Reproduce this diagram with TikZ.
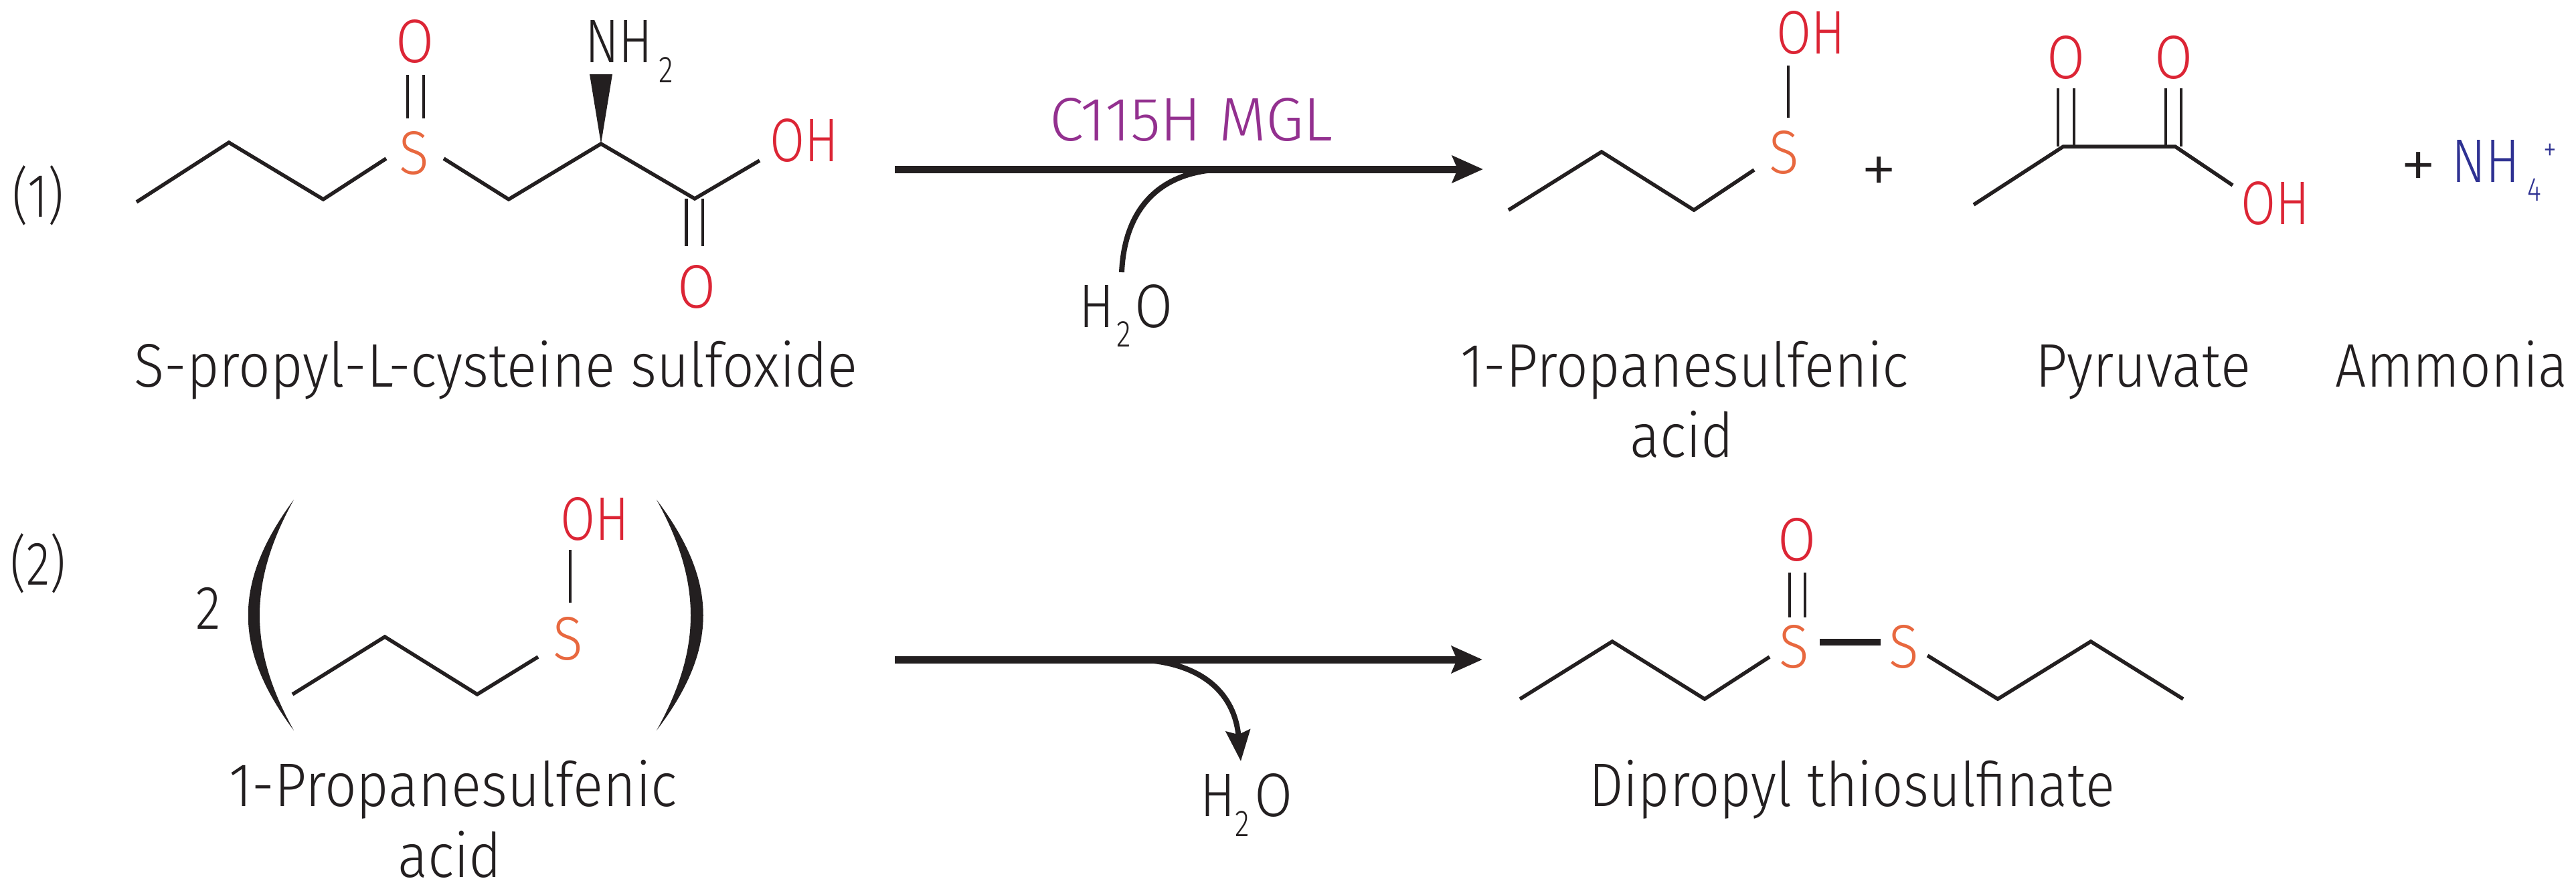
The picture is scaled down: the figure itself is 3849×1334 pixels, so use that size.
\documentclass[tikz,border=0pt]{standalone}
\usepackage{fontspec}
\setmainfont{Fira Sans Light}
\usetikzlibrary{arrows.meta}
\definecolor{ink}{HTML}{231F20}
\definecolor{oxy}{HTML}{DC2535}
\definecolor{sul}{HTML}{E8683F}
\definecolor{enz}{HTML}{93308F}
\definecolor{amm}{HTML}{2E3192}
\newcommand{\hs}[2]{\scalebox{#1}[1]{#2}}
\tikzset{
  x=1pt,y=-1pt,
  bond/.style={ink,line width=5.5pt,line join=miter},
  thin bond/.style={ink,line width=4.5pt},
  rxn/.style={ink,line width=11pt,-{Stealth[length=46pt,width=40pt,inset=8pt]}},
  side/.style={ink,line width=8pt},
  atom/.style={inner sep=0pt,anchor=base,font=\fontsize{92}{92}\selectfont},
  lab/.style={inner sep=0pt,anchor=base,text=ink,font=\fontsize{92}{92}\selectfont},
  plussign/.style={lab,font=\fontsize{110}{110}\selectfont},
  O/.style={atom,text=oxy},
  S/.style={atom,text=sul},
}
\begin{document}
\begin{tikzpicture}
\useasboundingbox (0,0) rectangle (3849,1334);
\fill[white] (0,0) rectangle (3849,1334);
% --- step labels
\node[lab] (n1) at (57,324) {\hs{0.8}{(1)}};
\node[lab] (n2) at (57,874) {\hs{0.8}{(2)}};
% --- S-propyl-L-cysteine sulfoxide
\coordinate (a1) at (204,302);
\coordinate (a2) at (342,213);
\coordinate (a3) at (483,298);
\coordinate (a4) at (577,237);
\coordinate (a5) at (663,237);
\coordinate (a6) at (760,298);
\coordinate (a7) at (898,215);
\coordinate (a8) at (1038,297);
\coordinate (a9) at (1135,240);
\draw[bond] (a1)--(a2)--(a3)--(a4);
\draw[bond] (a5)--(a6)--(a7)--(a8)--(a9);
\node[S] (s1) at (619,260) {\hs{0.9}{S}};
\node[O] (o1) at (620,93) {\hs{0.9}{O}};
\draw[thin bond] (609,112)--(609,177) (633,112)--(633,177);
\node[lab,anchor=base west] (nh2) at (874,93) {\hs{0.82}{NH}};
\node[lab,anchor=base west,font=\fontsize{56}{56}\selectfont] (nh2s) at (984,123) {\hs{0.8}{2}};
\coordinate (w1) at (881,111); \coordinate (w2) at (915,111);
\fill[ink] (w1)--(w2)--(a7)--cycle;
\node[O,anchor=base west] (oh1) at (1150,241) {\hs{0.82}{OH}};
\draw[thin bond] (1025.5,297)--(1025.5,368) (1050,297)--(1050,368);
\node[O] (o2) at (1041,460) {\hs{0.9}{O}};
\node[lab] (l1) at (741,578) {\hs{0.91}{S-propyl-L-cysteine sulfoxide}};
% --- reaction arrow 1
\coordinate (r1s) at (1337,253);
\coordinate (r1e) at (2216,253);
\draw[rxn] (r1s)--(r1e);
\node[lab,text=enz] (enz) at (1780,210) {\hs{1.0}{C115H MGL}};
\coordinate (h1) at (1676,407);
\coordinate (h1t) at (1835,253);
\draw[side] (h1) .. controls (1680,315) and (1730,253) .. (h1t);
\node[lab,anchor=base west] (w1t) at (1612,489) {\hs{0.85}{H}};
\node[lab,anchor=base west,font=\fontsize{56}{56}\selectfont] (w1s) at (1668,518) {\hs{0.8}{2}};
\node[lab,anchor=base west] (w1o) at (1695,489) {\hs{0.9}{O}};
% --- 1-propanesulfenic acid, product
\coordinate (b1) at (2254,314);
\coordinate (b2) at (2393,227);
\coordinate (b3) at (2531,314);
\coordinate (b4) at (2621,254);
\draw[bond] (b1)--(b2)--(b3)--(b4);
\node[S] (s2) at (2666,259) {\hs{0.9}{S}};
\draw[thin bond] (2672,98)--(2672,176);
\node[O,anchor=base west] (oh2) at (2654,80) {\hs{0.82}{OH}};
\node[plussign] (plus) at (2808,290) {+};
\node[lab] (l2) at (2517,578) {\hs{0.91}{1-Propanesulfenic}};
\node[lab] (l2b) at (2513,683) {\hs{0.91}{acid}};
% --- pyruvate
\coordinate (c1) at (2949,306);
\coordinate (c2) at (3083,219);
\coordinate (c3) at (3250,219);
\coordinate (c4) at (3336,277);
\draw[bond] (c1)--(c2)--(c3)--(c4);
\draw[thin bond] (3075,132)--(3075,219) (3099,132)--(3099,219);
\draw[thin bond] (3236,132)--(3236,219) (3259,132)--(3259,219);
\node[O] (o3) at (3087,117) {\hs{0.9}{O}};
\node[O] (o4) at (3248,117) {\hs{0.9}{O}};
\node[O,anchor=base west] (oh3) at (3348,335) {\hs{0.82}{OH}};
\node[lab] (l3) at (3202,578) {\hs{0.91}{Pyruvate}};
% --- ammonium
\node[plussign] (plus2) at (3614,283) {+};
\node[atom,anchor=base west,text=amm] (nh4) at (3663,272) {\hs{0.82}{NH}};
\node[atom,anchor=base west,text=amm,font=\fontsize{50}{50}\selectfont] (nh4s) at (3776,300) {\hs{0.8}{4}};
\node[atom,anchor=base west,text=amm,font=\fontsize{50}{50}\selectfont] (nh4p) at (3800,240) {\hs{0.8}{+}};
\node[lab] (l4) at (3663,578) {\hs{0.89}{Ammonia}};
% --- lower left
\node[lab] (two) at (311,940) {\hs{0.85}{2}};
\fill[ink] (439,747) .. controls (348,870) and (348,970) .. (439,1092)
           .. controls (371,970) and (371,870) .. (439,747) -- cycle;
\fill[ink] (981,747) .. controls (1074,870) and (1074,970) .. (981,1092)
           .. controls (1049,970) and (1049,870) .. (981,747) -- cycle;
\coordinate (d1) at (437,1038);
\coordinate (d2) at (575,952);
\coordinate (d3) at (713,1038);
\coordinate (d4) at (804,982);
\draw[bond] (d1)--(d2)--(d3)--(d4);
\node[S] (s3) at (849,986) {\hs{0.9}{S}};
\draw[thin bond] (852,822)--(852,901);
\node[O,anchor=base west] (oh4) at (837,807) {\hs{0.82}{OH}};
\node[lab] (l5) at (677,1205) {\hs{0.91}{1-Propanesulfenic}};
\node[lab] (l5b) at (672,1311) {\hs{0.91}{acid}};
% --- reaction arrow 2
\coordinate (r2s) at (1337,986);
\coordinate (r2e) at (2215,986);
\draw[rxn] (r2s)--(r2e);
\coordinate (h2s) at (1700,986);
\coordinate (h2e) at (1854,1138);
\draw[ink,line width=8pt,-{Stealth[length=46pt,width=36pt,inset=6pt]}] (h2s) .. controls (1800,990) and (1845,1040) .. (h2e);
\node[lab,anchor=base west] (w2t) at (1793,1220) {\hs{0.85}{H}};
\node[lab,anchor=base west,font=\fontsize{56}{56}\selectfont] (w2s) at (1845,1250) {\hs{0.8}{2}};
\node[lab,anchor=base west] (w2o) at (1874,1220) {\hs{0.9}{O}};
% --- dipropyl thiosulfinate
\coordinate (e1) at (2271,1045);
\coordinate (e2) at (2409,959);
\coordinate (e3) at (2547,1045);
\coordinate (e4) at (2644,982);
\draw[bond] (e1)--(e2)--(e3)--(e4);
\node[S] (s4) at (2681,998) {\hs{0.9}{S}};
\node[O] (o5) at (2685,838) {\hs{0.9}{O}};
\draw[thin bond] (2674,856)--(2674,923) (2697,856)--(2697,923);
\draw[ink,line width=10pt] (2719,960)--(2810,960);
\node[S] (s5) at (2845,998) {\hs{0.9}{S}};
\coordinate (e5) at (2880,980);
\coordinate (e6) at (2985,1045);
\coordinate (e7) at (3124,959);
\coordinate (e8) at (3262,1045);
\draw[bond] (e5)--(e6)--(e7)--(e8);
\node[lab] (l6) at (2767,1205) {\hs{0.885}{Dipropyl thiosulfinate}};
\end{tikzpicture}
\end{document}
